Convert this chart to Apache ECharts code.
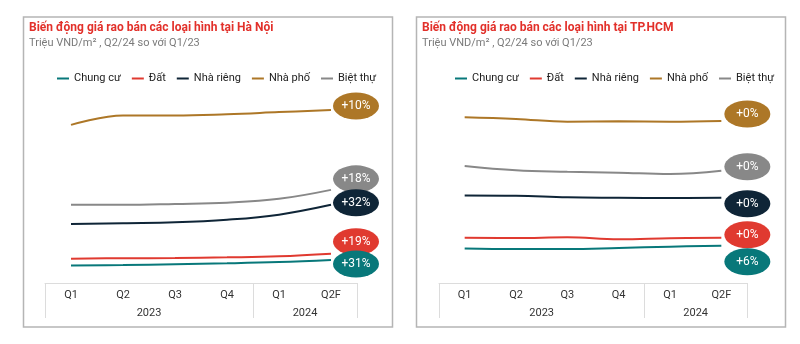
<!DOCTYPE html>
<html><head><meta charset="utf-8">
<script src="https://cdn.jsdelivr.net/npm/echarts@6/dist/echarts.min.js"></script>
<style>html,body{margin:0;padding:0;background:#fff}#c{width:800px;height:344px}</style>
</head><body><div id="c"></div>
<script>
const quarters = ['Q1','Q2','Q3','Q4','Q1','Q2F'];
const yearGroups = ['2023','2024'];
const yearGroupSizes = [4, 2];
const seriesNames = ['Chung cư','Đất','Nhà riêng','Nhà phố','Biệt thự'];
const colors = ['#08787a','#e03a30','#0f2537','#ad7727','#888888'];

// Hà Nội
const hnChungCu  = [41, 42, 44, 46, 49, 54];
const hnDat      = [57, 58, 58.5, 60, 62.5, 68.6];
const hnNhaRieng = [138, 140, 142, 148, 160, 183];
const hnNhaPho   = [370, 392, 392, 395, 400, 405];
const hnBietThu  = [183, 183, 185, 188, 197, 218];
const hnBadges   = ['+31%','+19%','+32%','+10%','+18%'];

// TP.HCM
const hcmChungCu  = [81, 79.6, 79.6, 82, 85, 87.3];
const hcmDat      = [106, 105.3, 107, 102.3, 104.6, 106];
const hcmNhaRieng = [205, 204.3, 200.6, 199.6, 198.9, 199.6];
const hcmNhaPho   = [388, 384, 377.5, 378.4, 377.5, 379.2];
const hcmBietThu  = [274, 264, 260.5, 258.2, 255.1, 262.8];
const hcmBadges   = ['+6%','+0%','+0%','+0%','+0%'];

const hnData = [hnChungCu, hnDat, hnNhaRieng, hnNhaPho, hnBietThu];
const hcmData = [hcmChungCu, hcmDat, hcmNhaRieng, hcmNhaPho, hcmBietThu];

// badge vertical offsets to avoid overlap (layout)
const hnBadgeDy  = [4, -12, -2, -4, -11];
const hcmBadgeDy = [16, -3, 6, -7, -4];
const zOrder = [16, 15, 14, 12, 13];

const FONT = 'Roboto, "Noto Sans", sans-serif';
const ellipse = 'path://M0,50 A50,50 0 1,1 100,50 A50,50 0 1,1 0,50 Z';

// year group boundaries & centers
const bounds = [0]; yearGroupSizes.forEach(s => bounds.push(bounds[bounds.length-1] + s));
const centers = yearGroupSizes.map((s, i) => bounds[i] + s / 2);

const grids = [
  {left: 45, width: 312, top: 95, bottom: 61},
  {left: 439, width: 308, top: 95, bottom: 61}
];

const xAxis = [], yAxis = [];
grids.forEach((g, gi) => {
  xAxis.push({
    type: 'category', gridIndex: gi, data: quarters, boundaryGap: true,
    axisLine: {show: true, lineStyle: {color: '#dcdcdc', width: 1}},
    axisTick: {show: false},
    axisLabel: {color: '#333', fontSize: 11, margin: 7, fontFamily: FONT}
  });
  xAxis.push({
    type: 'value', gridIndex: gi, min: 0, max: quarters.length, position: 'bottom',
    axisLine: {show: false}, splitLine: {show: false},
    axisTick: {show: true, customValues: bounds, length: 35, lineStyle: {color: '#dcdcdc'}},
    axisLabel: {show: true, customValues: centers, margin: 25, color: '#333', fontSize: 11, fontFamily: FONT,
      formatter: v => { const i = centers.indexOf(v); return i >= 0 ? yearGroups[i] : ''; }}
  });
  yAxis.push({type: 'value', gridIndex: gi, min: 0, max: 440, show: false});
});

const series = [];
[hnData, hcmData].forEach((set, gi) => {
  const badges = gi === 0 ? hnBadges : hcmBadges;
  const dys = gi === 0 ? hnBadgeDy : hcmBadgeDy;
  set.forEach((vals, si) => {
    series.push({
      name: seriesNames[si], type: 'line', xAxisIndex: gi * 2, yAxisIndex: gi,
      data: vals, smooth: 0.4, symbol: 'none', z: zOrder[si],
      lineStyle: {color: colors[si], width: 2}, itemStyle: {color: colors[si]},
      markPoint: {
        z: zOrder[si],
        symbol: ellipse, symbolSize: [46, 27], silent: true,
        itemStyle: {color: colors[si]},
        label: {show: true, position: 'inside', color: '#fff', fontSize: 12, fontFamily: FONT,
          formatter: badges[si]},
        data: [{coord: [vals.length - 1, vals[vals.length - 1]], symbolOffset: [gi === 0 ? 25 : 26, dys[si]]}]
      },
      animation: false
    });
  });
});

const chart = echarts.init(document.getElementById('c'), null, {renderer: 'canvas'});
chart.setOption({
  animation: false,
  backgroundColor: '#fff',
  graphic: [
    {type: 'rect', shape: {x: 23.5, y: 17, width: 369, height: 310}, style: {fill: 'none', stroke: '#b5b5b5', lineWidth: 1.5}, silent: true},
    {type: 'rect', shape: {x: 416.5, y: 17, width: 369, height: 310}, style: {fill: 'none', stroke: '#b5b5b5', lineWidth: 1.5}, silent: true}
  ],
  title: [
    {text: 'Biến động giá rao bán các loại hình tại Hà Nội', subtext: 'Triệu VND/m² , Q2/24 so với Q1/23', left: 29, top: 20, padding: 0, itemGap: 1,
     textStyle: {color: '#e2302a', fontSize: 12, fontWeight: 'bold', fontFamily: FONT, lineHeight: 15},
     subtextStyle: {color: '#7a7a7a', fontSize: 11, fontFamily: FONT, lineHeight: 14}},
    {text: 'Biến động giá rao bán các loại hình tại TP.HCM', subtext: 'Triệu VND/m² , Q2/24 so với Q1/23', left: 422, top: 20, padding: 0, itemGap: 1,
     textStyle: {color: '#e2302a', fontSize: 12, fontWeight: 'bold', fontFamily: FONT, lineHeight: 15},
     subtextStyle: {color: '#7a7a7a', fontSize: 11, fontFamily: FONT, lineHeight: 14}}
  ],
  legend: [
    {data: seriesNames, left: 57, top: 73, padding: 0, itemGap: 11, itemWidth: 12, itemHeight: 2, icon: 'rect',
     textStyle: {color: '#222', fontSize: 11, fontFamily: FONT}},
    {data: seriesNames, left: 455, top: 73, padding: 0, itemGap: 11, itemWidth: 12, itemHeight: 2, icon: 'rect',
     textStyle: {color: '#222', fontSize: 11, fontFamily: FONT}}
  ],
  grid: grids,
  xAxis: xAxis,
  yAxis: yAxis,
  series: series
});
</script></body></html>
